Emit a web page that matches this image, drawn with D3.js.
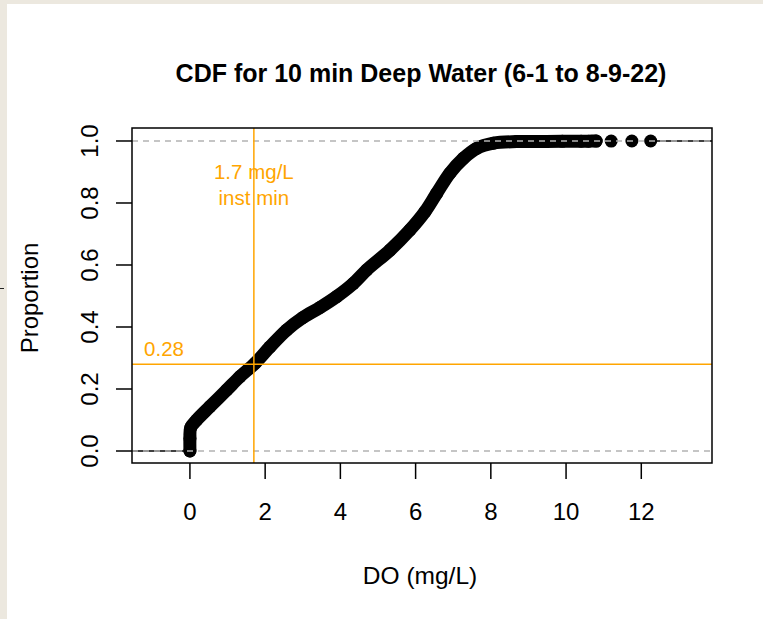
<!DOCTYPE html>
<html><head><meta charset="utf-8">
<script src="https://cdn.jsdelivr.net/npm/d3@7"></script>
<style>
html,body{margin:0;padding:0;background:#ece8df;}
svg{display:block;font-family:"Liberation Sans",Arial,sans-serif;}
</style></head>
<body>
<svg id="chart" width="763" height="619"></svg>
<script>
// ---- data ----
const cdfDO   = [0, 0, 0.02, 0.18, 0.53, 0.98, 1.33, 1.73, 2.13, 2.57, 3.0, 3.46, 3.9, 4.34, 4.7, 5.32, 5.85, 6.25, 6.56, 6.91, 7.27, 7.62, 8.07, 8.69, 9.3, 9.9, 10.4, 10.6];
const cdfProp = [0, 0.04, 0.075, 0.10, 0.143, 0.197, 0.24, 0.283, 0.336, 0.39, 0.43, 0.463, 0.498, 0.54, 0.584, 0.648, 0.713, 0.772, 0.831, 0.896, 0.944, 0.976, 0.993, 0.998, 0.9985, 0.999, 0.9995, 0.9995];
const tailDO   = [10.8, 11.2, 11.75, 12.25];
const tailProp = [0.9997, 0.9998, 0.9999, 1.0];
const xTicks = [0, 2, 4, 6, 8, 10, 12];
const yTicks = [0, 0.2, 0.4, 0.6, 0.8, 1.0];
const minDO = 1.7, minProp = 0.28;
const titleText = "CDF for 10 min Deep Water (6-1 to 8-9-22)";
const xLabel = "DO (mg/L)", yLabel = "Proportion";

const svg = d3.select("#chart");
// white panel
svg.append("rect").attr("x",7).attr("y",4).attr("width",756).attr("height",615).attr("fill","#ffffff");
svg.append("line").attr("x1",0).attr("x2",4).attr("y1",288.5).attr("y2",288.5).attr("stroke","#222").attr("stroke-width",1);

const L=132, R=712, T=128, B=463;
const x = d3.scaleLinear().domain([-1.54, 13.88]).range([L, R]);
const y = d3.scaleLinear().domain([-0.0387, 1.0419]).range([B, T]);

const g = svg.append("g");
// step extensions
g.append("line").attr("x1",L).attr("x2",x(cdfDO[0])).attr("y1",y(0)).attr("y2",y(0)).attr("stroke","#000").attr("stroke-width",1.5);
g.append("line").attr("x1",x(tailDO[tailDO.length-1])).attr("x2",R).attr("y1",y(1)).attr("y2",y(1)).attr("stroke","#000").attr("stroke-width",1.5);

const pts = cdfDO.map((d,i)=>[d, cdfProp[i]]);
const tail = tailDO.map((d,i)=>[d, tailProp[i]]);
const line = d3.line().x(d=>x(d[0])).y(d=>y(d[1])).curve(d3.curveCatmullRom.alpha(0.5));
g.append("path").datum(pts.concat(tail.slice(0,1))).attr("d",line).attr("fill","none").attr("stroke","#000")
 .attr("stroke-width",13).attr("stroke-linecap","round").attr("stroke-linejoin","round");
g.selectAll("circle.p").data(pts.concat(tail)).join("circle").attr("class","p")
 .attr("cx",d=>x(d[0])).attr("cy",d=>y(d[1])).attr("r",6.5).attr("fill","#000");

// gray dashed reference lines
[0,1].forEach(v=>{
  g.append("line").attr("x1",L).attr("x2",R).attr("y1",y(v)).attr("y2",y(v))
   .attr("stroke","#b3b3b3").attr("stroke-width",1.5).attr("stroke-dasharray","6,5");
});

// orange lines
g.append("line").attr("x1",x(minDO)).attr("x2",x(minDO)).attr("y1",T).attr("y2",B).attr("stroke","#FFA500").attr("stroke-width",1.5);
g.append("line").attr("x1",L).attr("x2",R).attr("y1",y(minProp)).attr("y2",y(minProp)).attr("stroke","#FFA500").attr("stroke-width",1.5);
g.append("text").attr("x",x(minDO)).attr("y",178.5).attr("text-anchor","middle").attr("fill","#FFA500").attr("font-size",20.5).text(minDO+" mg/L");
g.append("text").attr("x",x(minDO)).attr("y",205).attr("text-anchor","middle").attr("fill","#FFA500").attr("font-size",20.5).text("inst min");
g.append("text").attr("x",164).attr("y",356).attr("text-anchor","middle").attr("fill","#FFA500").attr("font-size",20.5).text(minProp.toFixed(2));

// box
svg.append("rect").attr("x",L).attr("y",T).attr("width",R-L).attr("height",B-T).attr("fill","none").attr("stroke","#000").attr("stroke-width",1.5);

// x axis
const xa = svg.append("g");
xTicks.forEach(t=>{
  xa.append("line").attr("x1",x(t)).attr("x2",x(t)).attr("y1",B).attr("y2",B+16).attr("stroke","#000").attr("stroke-width",1.5);
  xa.append("text").attr("x",x(t)).attr("y",520).attr("text-anchor","middle").attr("font-size",24).attr("fill","#000").text(t);
});
// y axis
const ya = svg.append("g");
yTicks.forEach(t=>{
  ya.append("line").attr("x1",L).attr("x2",L-16).attr("y1",y(t)).attr("y2",y(t)).attr("stroke","#000").attr("stroke-width",1.5);
  ya.append("text").attr("transform",`translate(98,${y(t)}) rotate(-90)`).attr("text-anchor","middle").attr("font-size",24).attr("fill","#000").text(t.toFixed(1));
});

svg.append("text").attr("x",421).attr("y",82).attr("text-anchor","middle").attr("font-size",25).attr("font-weight","bold").text(titleText);
svg.append("text").attr("x",420).attr("y",584).attr("text-anchor","middle").attr("font-size",24.5).text(xLabel);
svg.append("text").attr("transform","translate(38,298) rotate(-90)").attr("text-anchor","middle").attr("font-size",24).text(yLabel);
</script>
</body></html>
